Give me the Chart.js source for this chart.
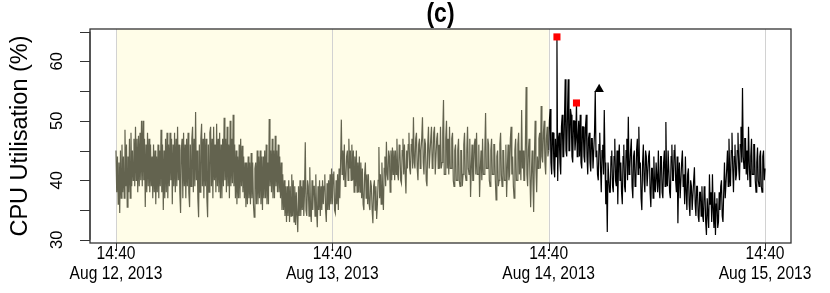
<!DOCTYPE html>
<html>
<head>
<meta charset="utf-8">
<script src="https://cdn.jsdelivr.net/npm/chart.js@4.4.0/dist/chart.umd.min.js"></script>
<style>
  html, body { margin: 0; padding: 0; background: #fff; }
  canvas { display: block; }
</style>
</head>
<body>
<canvas id="cpuChart" width="830" height="293"></canvas>
<script>
// hours are counted from Aug 12, 2013 14:40, one sample every 5 minutes
var stepHours = 1 / 12;

// training part (first two days), shaded - one row per hour
var trainStart = 0;
var trainValues = [
  45, 38, 44, 36, 43, 34.5, 45, 37, 46, 38, 44, 37,
  48.5, 39, 46, 35.5, 44, 38, 47, 37, 48, 39, 45, 40,
  47, 39, 49, 40, 47, 38, 47.5, 39, 48, 40, 50, 39,
  50, 40, 47, 35.5, 46, 38, 48, 39, 47, 38, 46, 39,
  44, 37, 46, 38, 45, 36, 44, 38, 46, 37, 45, 39,
  48.5, 38, 46, 35, 45, 37, 47, 38, 48, 37, 46, 39,
  48, 40, 47, 36, 46, 39, 48, 38, 47, 39, 49, 40,
  46, 38, 34.5, 45, 47, 37, 48, 39, 46, 37, 47, 39,
  48, 38, 35.5, 46, 39, 47, 49, 38, 47, 39, 51.5, 40,
  45, 37, 33.8, 46, 38, 47, 49.5, 39, 47, 37, 48, 39,
  47, 37, 33.8, 46, 38, 48, 49, 39, 47, 37, 49, 40,
  46, 38, 49.5, 39, 47, 38, 48, 37, 46, 37, 47, 39,
  50.5, 40, 47, 38, 49, 39, 46, 37, 50, 39, 47, 39.5,
  51, 39, 46, 37, 45, 36, 44, 37, 46, 37, 47, 39,
  45.8, 38, 44, 37, 43, 35.5, 43, 36, 44, 37, 43, 36,
  44.6, 37, 43, 36, 33.8, 42, 43, 36, 45, 36, 44, 37,
  45, 36, 44, 35, 44, 37, 45, 37, 46, 36, 43, 36,
  50.3, 39, 45, 38, 47, 37, 45, 37, 47.5, 39, 45, 38,
  46, 38, 44, 37, 43, 35, 41, 35, 40, 34, 39, 33,
  39, 34, 40, 33, 39, 34, 41, 34, 40, 33, 39, 32.5,
  38, 34, 31.3, 39, 34, 40, 34, 39, 35, 40, 34, 38,
  46.4, 35, 34, 40, 39, 34, 42.2, 35, 33, 40, 35, 39,
  39, 34, 41, 35, 32.1, 39, 35, 40, 34, 39, 35, 40,
  36, 39, 41, 35, 33, 39.5, 35, 40, 35, 41, 36, 42,
  36, 41, 41.5, 35, 34.5, 40, 36, 41, 35, 42, 37, 43,
  50.2, 41, 45, 40, 46, 39, 40, 44, 45, 40, 47, 42,
  45, 40, 46, 40, 45, 38, 44, 39, 45, 38, 43, 38,
  44, 38, 43, 37, 42, 36, 35, 41, 43, 37, 41, 36,
  41, 36, 35, 40, 39, 35, 32.8, 39, 40, 35, 39, 33.5,
  36, 40, 45.6, 37, 41, 36, 43, 38, 35, 42, 44, 39,
  46.5, 41, 40, 45, 44, 38, 45, 40, 45.5, 41, 45, 40,
  45, 41, 47, 41, 40, 46, 45, 40, 39.5, 45, 47, 41,
  46, 41, 37.8, 45, 42, 46, 48, 42, 41, 46, 47, 42,
  50.6, 43, 42, 47, 48, 42, 40, 46, 47, 42, 45, 47,
  50.6, 43, 41, 47, 46, 40, 39, 46, 49, 42, 42, 47,
  49, 42, 43, 48, 49, 41, 41, 47, 48, 42, 46, 42,
  49, 42, 43, 48, 53.5, 41, 41, 47, 50, 42, 47, 41,
  49, 42, 42, 47, 48, 40, 39, 45, 46, 40, 40, 45,
  47, 40, 39, 45, 45, 39, 41, 46, 48, 41, 40, 45,
  49, 42, 41, 47, 37.2, 42, 46, 40, 40, 46, 47, 41,
  48, 41, 41, 46, 37.2, 42, 45, 40, 47, 41, 41, 45,
  51.3, 42, 42, 47, 46, 40, 39, 45, 47, 41, 41, 46,
  46, 40, 36.7, 44, 45, 39, 40, 46, 48, 41, 39, 45,
  45, 40, 40, 46, 37.2, 42, 46, 40, 41, 47, 49, 41,
  44, 39, 37, 45, 47, 40, 40, 46, 48, 41, 45, 40,
  51.8, 42, 45, 40, 40, 46, 55.7, 41, 39, 45, 47, 41,
  35.5, 41, 45, 40, 34.7, 44, 50, 42, 38, 44, 42, 47,
  48, 42, 52.5, 44, 43, 48, 50, 43, 41, 47, 49, 44,
  45
];

// test part (last day) - one row per hour
var testStart = 48;
var testValues = [
  45, 50, 52, 43, 41, 48, 48, 42, 40.5, 47, 44, 64.1,
  39.9, 47, 48, 43, 41, 49, 51, 44, 44, 50, 57, 45,
  44, 51, 57, 45, 45, 52, 51, 44, 43, 50, 50, 45,
  47, 53, 44, 47, 50, 44, 51, 43, 42, 49, 49, 44,
  43, 49, 51, 44, 41, 47, 48, 43, 41.5, 47, 47, 42,
  42, 48, 55, 44, 45, 41, 40, 46, 48, 42, 38, 45,
  46, 41, 51.8, 43, 36, 40, 31.3, 43, 43, 38, 38, 44,
  45, 39, 38, 44, 47, 40, 39, 45, 36, 43, 46, 40,
  43, 38, 36, 44, 46, 39, 38, 45, 47, 40, 50.7, 41,
  42, 45, 47, 39, 37, 44, 45, 39, 39.5, 45, 47, 41,
  49, 42, 43, 37, 35, 43, 46, 40, 38, 45, 44, 39,
  39, 44, 45, 38, 35.5, 42, 42, 37, 44, 39, 38, 43,
  43, 38, 45, 39, 37, 44, 44, 38, 37, 43, 45, 39,
  49.8, 40, 39, 45, 45, 38, 37, 44, 46, 40, 40, 45,
  46, 40, 38, 44, 32.8, 40, 43, 37, 37, 43, 45, 39,
  41, 36, 44, 38, 35, 41, 42, 36, 34, 40, 39, 35,
  35, 40, 42.2, 36, 34, 39, 39, 34, 33, 38, 38, 34,
  39, 34, 33, 39, 38, 33, 30.8, 37, 37, 32, 41, 36,
  38, 33, 41, 35, 32, 38, 30.8, 36, 37, 32, 33, 38,
  35, 39, 40, 34, 33, 38, 43, 37, 37, 42, 45, 39,
  47, 41, 39, 45, 48, 42, 38, 44, 46, 40, 41, 45,
  48, 42, 40, 46, 49, 43, 55.5, 44, 42, 47, 47, 41,
  45, 40, 49, 43, 39, 44, 47, 41, 41, 46, 46, 40,
  38, 43, 45.5, 40, 39, 44, 45, 39, 38, 44, 45, 40,
  42
];

// detected anomalies (red squares) and the flagged point (black triangle)
var anomalyHours = [48.917, 51.083];
var anomalyValues = [64.1, 53];
var flagHours = [53.6];
var flagValues = [55.3];

// axes
var yTicks = [30, 35, 40, 45, 50, 55, 60, 65];
var yLabelTicks = [30, 40, 50, 60];
var xTickHours = [0, 24, 48, 72];
var xTickTimes = ['14:40', '14:40', '14:40', '14:40'];
var xTickDates = ['Aug 12, 2013', 'Aug 13, 2013', 'Aug 14, 2013', 'Aug 15, 2013'];
var shadeFrom = 0, shadeTo = 48;
var chartTitle = '(c)';
var yTitle = 'CPU Utilisation (%)';

function toPoints(start, values) {
  return values.map(function(v, i) {
    return { x: start + i * stepHours, y: v };
  });
}

function zipPoints(xs, ys) {
  return xs.map(function(x, i) {
    return { x: x, y: ys[i] };
  });
}

// narrow text: the original uses a condensed Helvetica
function narrowText(ctx, text, x, y, squeeze) {
  ctx.save();
  ctx.translate(x, y);
  ctx.scale(squeeze, 1);
  ctx.fillText(text, 0, 0);
  ctx.restore();
}

var decorPlugin = {
  id: 'decor',
  beforeDatasetsDraw: function(chart) {
    var ctx = chart.ctx, area = chart.chartArea, xs = chart.scales.x;
    ctx.save();
    // shaded training window
    var x0 = xs.getPixelForValue(shadeFrom), x1 = xs.getPixelForValue(shadeTo);
    ctx.fillStyle = '#fffde8';
    ctx.fillRect(x0, area.top, x1 - x0, area.bottom - area.top);
    // vertical grid at day marks
    ctx.strokeStyle = '#d2d2d2';
    ctx.lineWidth = 1;
    xTickHours.forEach(function(h) {
      var px = Math.round(xs.getPixelForValue(h)) + 0.5;
      ctx.beginPath();
      ctx.moveTo(px, area.top);
      ctx.lineTo(px, area.bottom);
      ctx.stroke();
    });
    ctx.restore();
  },
  afterDraw: function(chart) {
    var ctx = chart.ctx, area = chart.chartArea;
    var xs = chart.scales.x, ys = chart.scales.y;
    ctx.save();
    ctx.strokeStyle = '#333';
    ctx.fillStyle = '#000';
    ctx.lineWidth = 1.3;
    ctx.strokeRect(area.left, area.top, area.right - area.left, area.bottom - area.top);

    // y axis ticks + rotated labels
    ctx.lineWidth = 1;
    var yTop = ys.getPixelForValue(yTicks[yTicks.length - 1]);
    var yBot = ys.getPixelForValue(yTicks[0]);
    ctx.beginPath();
    ctx.moveTo(area.left, yTop);
    ctx.lineTo(area.left, yBot);
    yTicks.forEach(function(t) {
      var py = Math.round(ys.getPixelForValue(t)) + 0.5;
      ctx.moveTo(area.left - 10, py);
      ctx.lineTo(area.left, py);
    });
    ctx.stroke();

    ctx.font = '16.5px "Liberation Sans", Arial, sans-serif';
    ctx.textAlign = 'center';
    ctx.textBaseline = 'middle';
    yLabelTicks.forEach(function(t) {
      ctx.save();
      ctx.translate(area.left - 33, ys.getPixelForValue(t));
      ctx.rotate(-Math.PI / 2);
      ctx.fillText(String(t), 0, 0);
      ctx.restore();
    });

    ctx.save();
    ctx.font = '23.5px "Liberation Sans", Arial, sans-serif';
    ctx.translate(21, (area.top + area.bottom) / 2);
    ctx.rotate(-Math.PI / 2);
    ctx.fillText(yTitle, 0, 0);
    ctx.restore();

    // x axis ticks + two-line labels
    ctx.beginPath();
    xTickHours.forEach(function(h) {
      var px = Math.round(xs.getPixelForValue(h)) + 0.5;
      ctx.moveTo(px, area.bottom);
      ctx.lineTo(px, area.bottom + 8);
    });
    ctx.stroke();
    ctx.font = '19px "Liberation Sans", Arial, sans-serif';
    xTickHours.forEach(function(h, i) {
      var px = xs.getPixelForValue(h);
      narrowText(ctx, xTickTimes[i], px, area.bottom + 11, 0.82);
      narrowText(ctx, xTickDates[i], px, area.bottom + 31, 0.82);
    });

    // title
    ctx.font = 'bold 27px "Liberation Sans", Arial, sans-serif';
    narrowText(ctx, chartTitle, (area.left + area.right) / 2, 15, 0.85);
    ctx.restore();
  }
};

new Chart(document.getElementById('cpuChart'), {
  type: 'line',
  data: {
    datasets: [
      {
        data: zipPoints(anomalyHours, anomalyValues),
        showLine: false,
        pointStyle: 'rect',
        pointRadius: 5,
        pointBackgroundColor: '#ff0000',
        pointBorderWidth: 0,
        order: 0
      },
      {
        data: zipPoints(flagHours, flagValues),
        showLine: false,
        pointStyle: 'triangle',
        pointRadius: 5.5,
        pointBackgroundColor: '#000',
        pointBorderWidth: 0,
        order: 0
      },
      {
        data: toPoints(trainStart, trainValues),
        borderColor: '#63634f',
        borderWidth: 1.2,
        pointRadius: 0,
        tension: 0,
        order: 1
      },
      {
        data: toPoints(testStart, testValues),
        borderColor: '#000',
        borderWidth: 1.2,
        pointRadius: 0,
        tension: 0,
        order: 1
      }
    ]
  },
  options: {
    responsive: false,
    animation: false,
    devicePixelRatio: 1,
    layout: { padding: { left: 90, top: 29, right: 39, bottom: 50 } },
    scales: {
      x: { type: 'linear', min: -2.88, max: 74.88, display: false },
      y: { min: 29.47, max: 65.43, display: false }
    },
    plugins: {
      legend: { display: false },
      tooltip: { enabled: false },
      title: { display: false }
    }
  },
  plugins: [decorPlugin]
});
</script>
</body>
</html>
